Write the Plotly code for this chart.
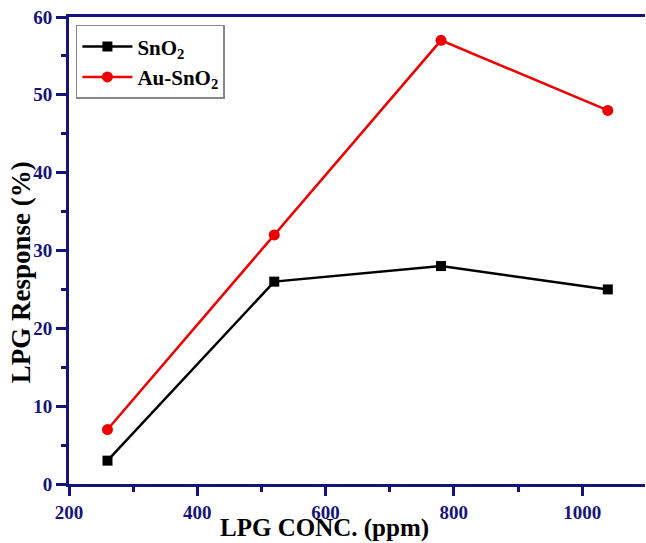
import plotly.graph_objects as go

conc = [260, 520, 780, 1040]
sno2 = [3, 26, 28, 25]
au_sno2 = [7, 32, 57, 48]

navy = "#14147a"
font_family = "Liberation Serif, Times New Roman, serif"

fig = go.Figure()
fig.add_trace(go.Scatter(x=conc, y=sno2, mode="lines+markers", name="SnO<sub>2</sub>",
                         line=dict(color="black", width=2.5),
                         marker=dict(symbol="square", size=10, color="black")))
fig.add_trace(go.Scatter(x=conc, y=au_sno2, mode="lines+markers", name="Au-SnO<sub>2</sub>",
                         line=dict(color="#ee0000", width=2.5),
                         marker=dict(symbol="circle", size=11, color="#ee0000")))

fig.update_layout(
    width=646, height=543,
    margin=dict(l=69, r=1, t=17, b=59),
    plot_bgcolor="white", paper_bgcolor="white",
    font=dict(family=font_family),
    showlegend=True,
    legend=dict(x=0.012, y=0.983, xanchor="left", yanchor="top",
                bordercolor="#888888", borderwidth=1.5, bgcolor="white",
                font=dict(family=font_family, size=21, color="black", weight="bold"),
                itemwidth=50, tracegroupgap=0),
    xaxis=dict(range=[200, 1098], tickvals=[200, 400, 600, 800, 1000],
               showgrid=False, zeroline=False, automargin=False,
               showline=True, linecolor=navy, linewidth=3, mirror=True,
               ticks="outside", ticklen=9, tickwidth=2.5, tickcolor=navy,
               minor=dict(tickvals=[300, 500, 700, 900], ticks="outside", ticklen=5, tickwidth=2.5, tickcolor=navy),
               tickfont=dict(family=font_family, size=19, color=navy, weight="bold")),
    yaxis=dict(range=[0, 60], tickvals=[0, 10, 20, 30, 40, 50, 60],
               showgrid=False, zeroline=False, automargin=False,
               showline=True, linecolor=navy, linewidth=3,
               ticks="outside", ticklen=10, tickwidth=2.5, tickcolor=navy,
               minor=dict(tickvals=[5, 15, 25, 35, 45, 55], ticks="outside", ticklen=5, tickwidth=2.5, tickcolor=navy),
               tickfont=dict(family=font_family, size=19, color=navy, weight="bold")),
    annotations=[
        dict(text="<b>LPG CONC. (ppm)</b>", xref="paper", yref="paper",
             x=0.444, y=-0.094, xanchor="center", yanchor="middle", showarrow=False,
             font=dict(family=font_family, size=25, color="black")),
        dict(text="<b>LPG Response (%)</b>", xref="paper", yref="paper",
             x=-0.083, y=0.454, xanchor="center", yanchor="middle", showarrow=False,
             textangle=-90, font=dict(family=font_family, size=27, color="black")),
    ],
)

fig.write_html("out.html", config={"displayModeBar": False},
               post_script="document.body.style.margin='0';document.body.style.overflow='hidden';")
